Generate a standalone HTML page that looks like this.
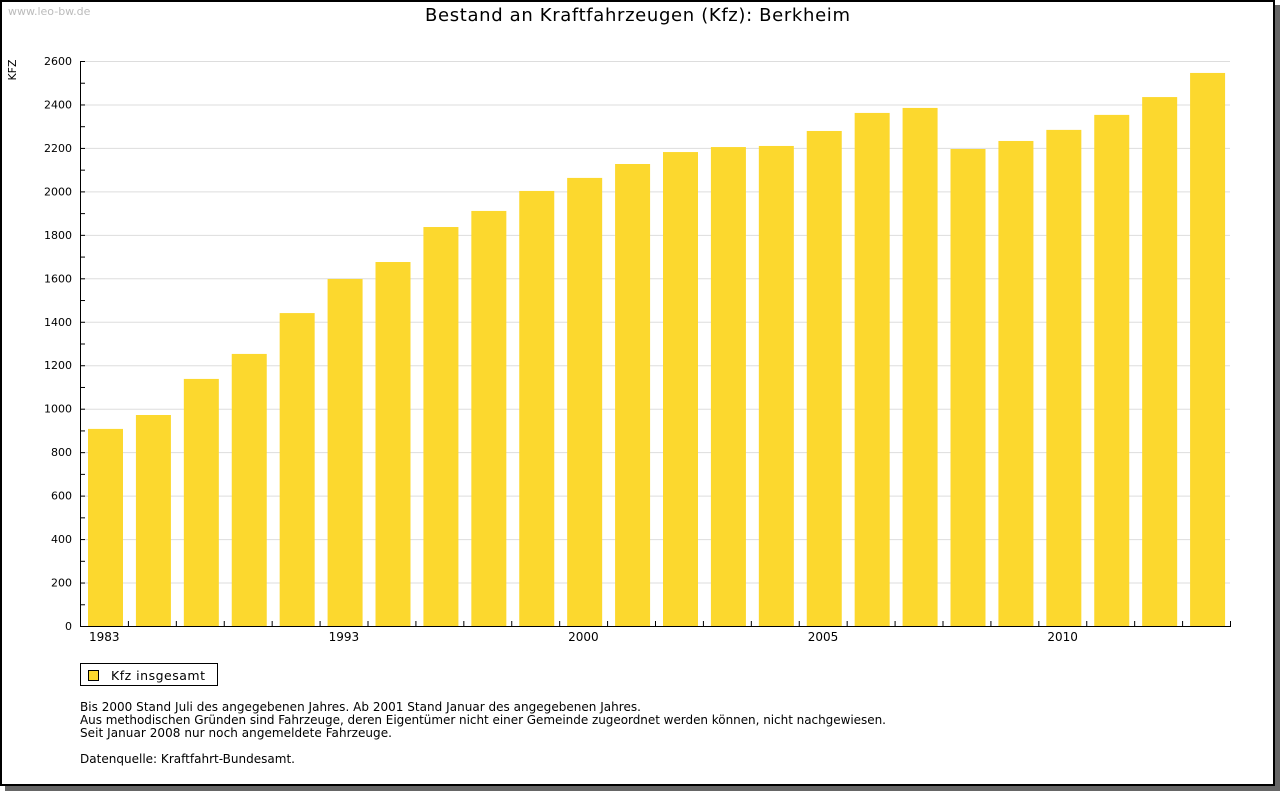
<!DOCTYPE html>
<html><head><meta charset="utf-8"><style>
body{margin:0;width:1280px;height:791px;background:#fff;overflow:hidden;font-family:"DejaVu Sans","Liberation Sans",sans-serif}
#shadow{position:absolute;left:5px;top:5px;width:1275px;height:786px;background:#666}
#frame{position:absolute;left:0;top:0;width:1271px;height:782px;background:#fff;border:2px solid #000}
</style></head><body>
<div id="shadow"></div>
<div id="frame"></div>
<svg width="1280" height="791" style="position:absolute;left:0;top:0" font-family="DejaVu Sans, Liberation Sans, sans-serif">
<text x="8" y="15" font-size="11" fill="#bbb">www.leo-bw.de</text>
<text x="425" y="21" font-size="18" textLength="425" fill="#000">Bestand an Kraftfahrzeugen (Kfz): Berkheim</text>
<text transform="translate(16,70) rotate(-90)" font-size="11" text-anchor="middle">KFZ</text>
<g id="grid"></g><g id="bars"></g><g id="axes"></g>
<rect x="80.5" y="663.5" width="137" height="22" fill="#fff" stroke="#000"/>
<rect x="88.5" y="670.5" width="10" height="10" fill="#fcd82e" stroke="#000"/>
<text x="111" y="680" font-size="12.5" textLength="94">Kfz insgesamt</text>
<g font-size="12">
<text x="80" y="711" textLength="561">Bis 2000 Stand Juli des angegebenen Jahres. Ab 2001 Stand Januar des angegebenen Jahres.</text>
<text x="80" y="724" textLength="806">Aus methodischen Gründen sind Fahrzeuge, deren Eigentümer nicht einer Gemeinde zugeordnet werden können, nicht nachgewiesen.</text>
<text x="80" y="737" textLength="312">Seit Januar 2008 nur noch angemeldete Fahrzeuge.</text>
<text x="80" y="763" textLength="215">Datenquelle: Kraftfahrt-Bundesamt.</text>
</g>
</svg>
<script>
const categories=["1983","1985","1987","1989","1991","1993","1995","1997","1998","1999","2000","2001","2002","2003","2004","2005","2006","2007","2008","2009","2010","2011","2012","2013"];
const values=[907,971,1137,1252,1440,1597,1675,1836,1910,2002,2062,2126,2181,2204,2209,2278,2361,2384,2195,2232,2283,2352,2434,2545];
const yTicks=[0,200,400,600,800,1000,1200,1400,1600,1800,2000,2200,2400,2600];
const xLabels=["1983","1993","2000","2005","2010"];
const NS="http://www.w3.org/2000/svg";
const x0=80,x1=1230,y0=626,yTop=61,yMax=2600;
const y=v=>y0-(v/yMax)*(y0-yTop);
const cw=(x1-x0)/categories.length;
const xs=i=>x0+i*cw;
function mk(t,a,p){const e=document.createElementNS(NS,t);for(const k in a)e.setAttribute(k,a[k]);p.appendChild(e);return e;}
const grid=document.getElementById('grid'),bars=document.getElementById('bars'),axes=document.getElementById('axes');
yTicks.forEach(v=>{
 if(v>0){const g=mk('line',{x1:x0,x2:x1,y1:y(v)+.5,y2:y(v)+.5,stroke:'#ddd'},grid);
 
 }
 const t=mk('text',{x:72,y:y(v)+4,'font-size':11,'text-anchor':'end'},axes);t.textContent=v;
 
 
 mk('line',{x1:x0,x2:x0+5,y1:y(v)+.5,y2:y(v)+.5,stroke:'#000'},axes);
 if(v<yMax)mk('line',{x1:x0,x2:x0+5,y1:y(v+100)+.5,y2:y(v+100)+.5,stroke:'#000'},axes);
});
values.forEach((v,i)=>{
 const r=mk('rect',{x:xs(i)+8,y:y(v),width:35,height:y0-y(v),fill:'#fcd82e'},bars);
 
 
 mk('line',{x1:xs(i+1)+.5,x2:xs(i+1)+.5,y1:y0-5,y2:y0,stroke:'#000'},axes);
 if(xLabels.includes(categories[i])){const t=mk('text',{x:xs(i)+9,y:y0+15,'font-size':12},axes);t.textContent=categories[i];
 
 }
});
const ya=mk('line',{x1:x0+.5,x2:x0+.5,y1:yTop,y2:y0+.5,stroke:'#000'},axes);


const xa=mk('line',{x1:x0,x2:x1+1,y1:y0+.5,y2:y0+.5,stroke:'#000'},axes);


</script>
</body></html>
